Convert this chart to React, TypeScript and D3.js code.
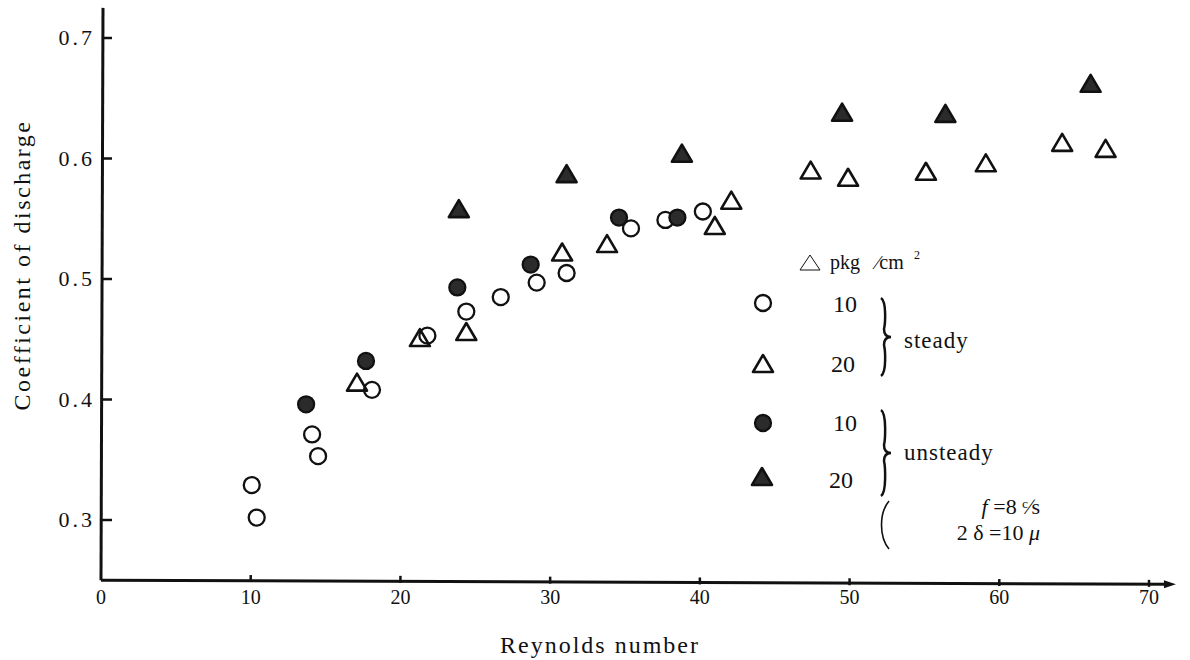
import React from "react";
import * as d3 from "d3";

const xTicks = [0, 10, 20, 30, 40, 50, 60, 70];
const yTicks = [0.3, 0.4, 0.5, 0.6, 0.7];

const steady10: [number, number][] = [
  [10.07, 0.329], [10.4, 0.302], [14.1, 0.371], [14.5, 0.353], [18.1, 0.408],
  [21.8, 0.453], [24.4, 0.473], [26.7, 0.485], [29.1, 0.497], [31.1, 0.505],
  [35.4, 0.542], [37.7, 0.549], [40.2, 0.556],
];
const steady20: [number, number][] = [
  [17.1, 0.414], [21.3, 0.451], [24.4, 0.456], [30.8, 0.522], [33.8, 0.529],
  [41.0, 0.544], [42.1, 0.565], [47.4, 0.590], [49.9, 0.584], [55.1, 0.589],
  [59.1, 0.596], [64.2, 0.613], [67.1, 0.608],
];
const unsteady10: [number, number][] = [
  [13.7, 0.396], [17.7, 0.432], [23.8, 0.493], [28.7, 0.512], [34.6, 0.551], [38.5, 0.551],
];
const unsteady20: [number, number][] = [
  [23.9, 0.558], [31.1, 0.587], [38.8, 0.604], [49.5, 0.638], [56.4, 0.637], [66.1, 0.662],
];

const FONT = "'Liberation Serif', 'DejaVu Serif', serif";
const INK = "#111";
const DARK = "#2b2b2b";

const tri = (cx: number, cy: number) =>
  `M${cx},${cy - 9}L${cx + 10},${cy + 8}L${cx - 10},${cy + 8}Z`;

function Circle({ cx, cy, filled }: { cx: number; cy: number; filled?: boolean }) {
  return (
    <circle cx={cx} cy={cy} r={8} fill={filled ? DARK : "none"} stroke={INK} strokeWidth={2.3} />
  );
}
function Tri({ cx, cy, filled }: { cx: number; cy: number; filled?: boolean }) {
  return (
    <path d={tri(cx, cy)} fill={filled ? DARK : "none"} stroke={INK} strokeWidth={2.6} strokeLinejoin="round" />
  );
}

function brace(x: number, y0: number, y1: number) {
  const m = (y0 + y1) / 2;
  const w = 7;
  return `M${x - 3},${y0} C${x + 3},${y0 + 4} ${x + 1},${m - 12} ${x},${m - 8} C${x},${m - 3} ${x + 2},${m} ${x + w},${m}
  C${x + 2},${m} ${x},${m + 3} ${x},${m + 8} C${x + 1},${m + 12} ${x + 3},${y1 - 4} ${x - 3},${y1}`;
}

export default function App() {
  const x = d3.scaleLinear().domain([0, 70]).range([101, 1149]);
  const y = d3.scaleLinear().domain([0.3, 0.7]).range([520, 38]);
  const x0 = x(0);
  const yBase = y(0.25);
  const yTop = y(0.725);
  const xEnd = x(71.8);

  return (
    <svg width={1190} height={660} style={{ position: "absolute", left: 0, top: 0, background: "#fff" }}>
      {/* axes */}
      <line x1={x0 + 2} y1={yTop} x2={x0} y2={yBase} stroke={INK} strokeWidth={3} />
      <line x1={x0} y1={yBase} x2={xEnd - 6} y2={yBase + 4} stroke={INK} strokeWidth={3} />
      <path d={`M${xEnd},${yBase + 4} L${xEnd - 12},${yBase} L${xEnd - 12},${yBase + 8} Z`} fill={INK} />
      {yTicks.map((t) => (
        <g key={"y" + t}>
          <line x1={x0 + 1} x2={x0 + 11} y1={y(t)} y2={y(t)} stroke={INK} strokeWidth={2.5} />
          <text x={x0 - 6} y={y(t) + 7} textAnchor="end" fontFamily={FONT} fontSize={22} letterSpacing={3} fill={INK}>
            {d3.format(".1f")(t)}
          </text>
        </g>
      ))}
      {xTicks.map((t) => (
        <g key={"x" + t}>
          {t > 0 && (
            <line x1={x(t)} x2={x(t)} y1={yBase - 6 + t * 0.08} y2={yBase + 1 + t * 0.08} stroke={INK} strokeWidth={2.5} />
          )}
          <text x={x(t)} y={yBase + 24} textAnchor="middle" fontFamily={FONT} fontSize={20} fill={INK}>
            {t}
          </text>
        </g>
      ))}
      <text
        transform={`translate(30,265) rotate(-90)`}
        textAnchor="middle"
        fontFamily={FONT}
        fontSize={24}
        letterSpacing={2.5}
        fill={INK}
      >
        Coefficient of discharge
      </text>
      <text x={600} y={653} textAnchor="middle" fontFamily={FONT} fontSize={24} letterSpacing={2} fill={INK}>
        Reynolds number
      </text>

      {/* data */}
      {steady10.map(([a, b], i) => <Circle key={"s10" + i} cx={x(a)} cy={y(b)} />)}
      {steady20.map(([a, b], i) => <Tri key={"s20" + i} cx={x(a)} cy={y(b)} />)}
      {unsteady10.map(([a, b], i) => <Circle key={"u10" + i} cx={x(a)} cy={y(b)} filled />)}
      {unsteady20.map(([a, b], i) => <Tri key={"u20" + i} cx={x(a)} cy={y(b)} filled />)}

      {/* legend */}
      <path d="M800,270 L810,255 L820,270 Z" fill="none" stroke={INK} strokeWidth={1} />
      <text x={830} y={269} fontFamily={FONT} fontSize={20} fill={INK}>
        pkg
      </text>
      <text x={876} y={269} fontFamily={FONT} fontSize={20} fill={INK}>
        ∕cm
      </text>
      <text x={914} y={259} fontFamily={FONT} fontSize={12} fill={INK}>
        2
      </text>

      <Circle cx={763} cy={303} />
      <text x={845} y={312} textAnchor="middle" fontFamily={FONT} fontSize={24} fill={INK}>10</text>
      <Tri cx={763} cy={364} />
      <text x={843} y={372} textAnchor="middle" fontFamily={FONT} fontSize={24} fill={INK}>20</text>
      <path d={brace(884, 298, 376)} fill="none" stroke={INK} strokeWidth={2.5} />
      <text x={904} y={348} fontFamily={FONT} fontSize={23} letterSpacing={1} fill={INK}>steady</text>

      <Circle cx={763} cy={423} filled />
      <text x={845} y={431} textAnchor="middle" fontFamily={FONT} fontSize={24} fill={INK}>10</text>
      <Tri cx={762} cy={477} filled />
      <text x={841} y={488} textAnchor="middle" fontFamily={FONT} fontSize={24} fill={INK}>20</text>
      <path d={brace(884, 410, 496)} fill="none" stroke={INK} strokeWidth={2.5} />
      <text x={904} y={460} fontFamily={FONT} fontSize={23} letterSpacing={1} fill={INK}>unsteady</text>

      <path d="M889,501 C879,513 879,537 889,549" fill="none" stroke={INK} strokeWidth={1.6} />
      <text x={1040} y={514} textAnchor="end" fontFamily={FONT} fontSize={22} fill={INK}>
        <tspan fontStyle="italic">f</tspan> =8 ᶜ∕s
      </text>
      <text x={1040} y={540} textAnchor="end" fontFamily={FONT} fontSize={22} fill={INK}>
        2 δ =10 <tspan fontStyle="italic">μ</tspan>
      </text>
    </svg>
  );
}
